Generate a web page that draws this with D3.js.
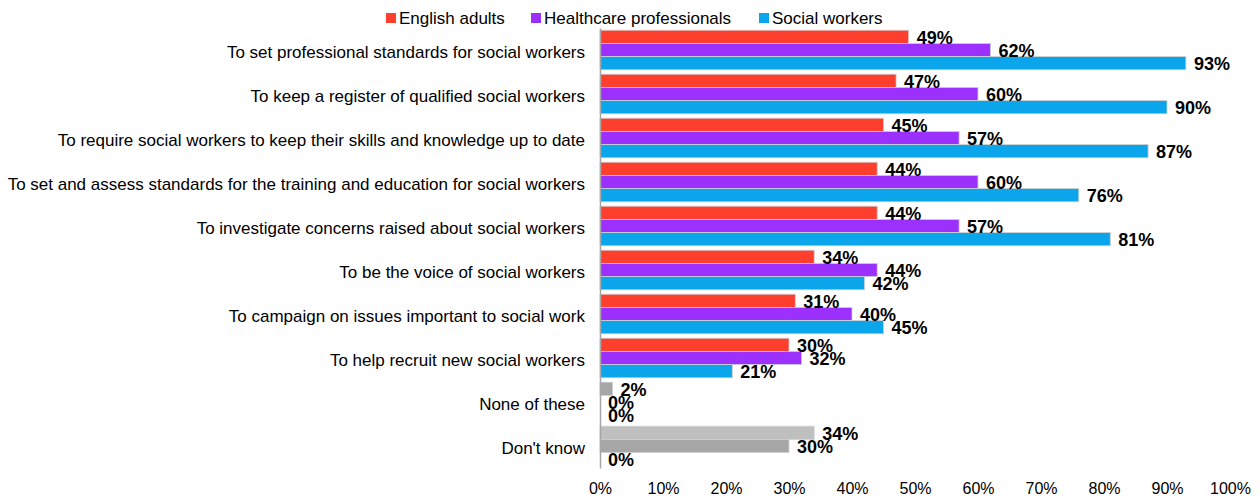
<!DOCTYPE html>
<html>
<head>
<meta charset="utf-8">
<script src="https://cdn.jsdelivr.net/npm/d3@7"></script>
<style>
  html, body { margin: 0; padding: 0; background: #fff; }
  svg { display: block; font-family: "Liberation Sans", Arial, sans-serif; }
</style>
</head>
<body>
<svg id="chart" width="1260" height="500"></svg>
<script>
// Roles of the social work regulator, share agreeing by group
const categories = [
  "To set professional standards for social workers",
  "To keep a register of qualified social workers",
  "To require social workers to keep their skills and knowledge up to date",
  "To set and assess standards for the training and education for social workers",
  "To investigate concerns raised about social workers",
  "To be the voice of social workers",
  "To campaign on issues important to social work ",
  "To help recruit new social workers",
  "None of these",
  "Don't know"
];
const seriesNames = ["English adults", "Healthcare professionals", "Social workers"];
const englishAdults = [49, 47, 45, 44, 44, 34, 31, 30, 2, 34];
const healthcarePros = [62, 60, 57, 60, 57, 44, 40, 32, 0, 30];
const socialWorkers = [93, 90, 87, 76, 81, 42, 45, 21, 0, 0];
const seriesColors = ["#FF3F2E", "#9B30FF", "#0AA5EA"];
// Non-substantive answers are drawn in grey
const greyRows = {
  "None of these": ["#A6A6A6", "#A6A6A6", "#A6A6A6"],
  "Don't know": ["#BFBFBF", "#A6A6A6", "#A6A6A6"]
};
const tickValues = [0, 10, 20, 30, 40, 50, 60, 70, 80, 90, 100];

const seriesValues = [englishAdults, healthcarePros, socialWorkers];
const rows = categories.map((c, i) => ({
  category: c,
  bars: seriesValues.map((vals, s) => ({
    series: seriesNames[s],
    value: vals[i],
    color: greyRows[c] ? greyRows[c][s] : seriesColors[s]
  }))
}));

const svg = d3.select("#chart");
const x = d3.scaleLinear().domain([0, 100]).range([600, 1230]);
const y = d3.scaleBand().domain(categories).range([28, 468])
  .paddingInner(0.1).paddingOuter(0.05);
const ySub = d3.scaleBand().domain(seriesNames).range([0, y.bandwidth()]);

// Bars
const groups = svg.append("g").selectAll("g").data(rows).join("g")
  .attr("transform", d => `translate(0,${y(d.category)})`);

groups.selectAll("rect").data(d => d.bars).join("rect")
  .attr("x", x(0))
  .attr("y", d => ySub(d.series))
  .attr("width", d => x(d.value) - x(0))
  .attr("height", ySub.bandwidth())
  .attr("fill", d => d.color)
  .attr("stroke", d => d.value > 0 ? "#d0d0d0" : "none")
  .attr("stroke-width", 0.8);

// Value labels
groups.selectAll("text").data(d => d.bars).join("text")
  .attr("x", d => x(d.value) + 8)
  .attr("y", d => ySub(d.series) + ySub.bandwidth() / 2)
  .attr("dy", "0.4em")
  .attr("font-size", 18)
  .attr("font-weight", "bold")
  .attr("fill", "#000")
  .text(d => d.value + "%");

// Category axis
const yAxis = d3.axisLeft(y).tickSize(0).tickPadding(15);
const yg = svg.append("g").attr("transform", `translate(${x(0)},0)`).call(yAxis);
yg.select(".domain").attr("stroke", "#a6a6a6").attr("stroke-width", 1.5);
yg.selectAll(".tick text")
  .attr("font-size", 17)
  .attr("dy", "0.45em")
  .attr("font-family", "'Liberation Sans', Arial, sans-serif")
  .attr("fill", "#000");

// Value axis (labels only)
const xAxis = d3.axisBottom(x).tickValues(tickValues).tickSize(0).tickPadding(10)
  .tickFormat(d => d + "%");
const xg = svg.append("g").attr("transform", "translate(0,473)").call(xAxis);
xg.select(".domain").remove();
xg.selectAll(".tick text")
  .attr("font-size", 16)
  .attr("font-family", "'Liberation Sans', Arial, sans-serif")
  .attr("fill", "#000");

// Legend
const legendX = [386, 531, 759];
const legend = svg.append("g").selectAll("g").data(seriesNames).join("g")
  .attr("transform", (d, i) => `translate(${legendX[i]},18)`);
legend.append("rect")
  .attr("x", 0).attr("y", -5).attr("width", 10).attr("height", 10)
  .attr("fill", (d, i) => seriesColors[i]);
legend.append("text")
  .attr("x", 13).attr("y", 0).attr("dy", "0.35em")
  .attr("font-size", 17)
  .attr("fill", "#000")
  .text(d => d);
</script>
</body>
</html>
